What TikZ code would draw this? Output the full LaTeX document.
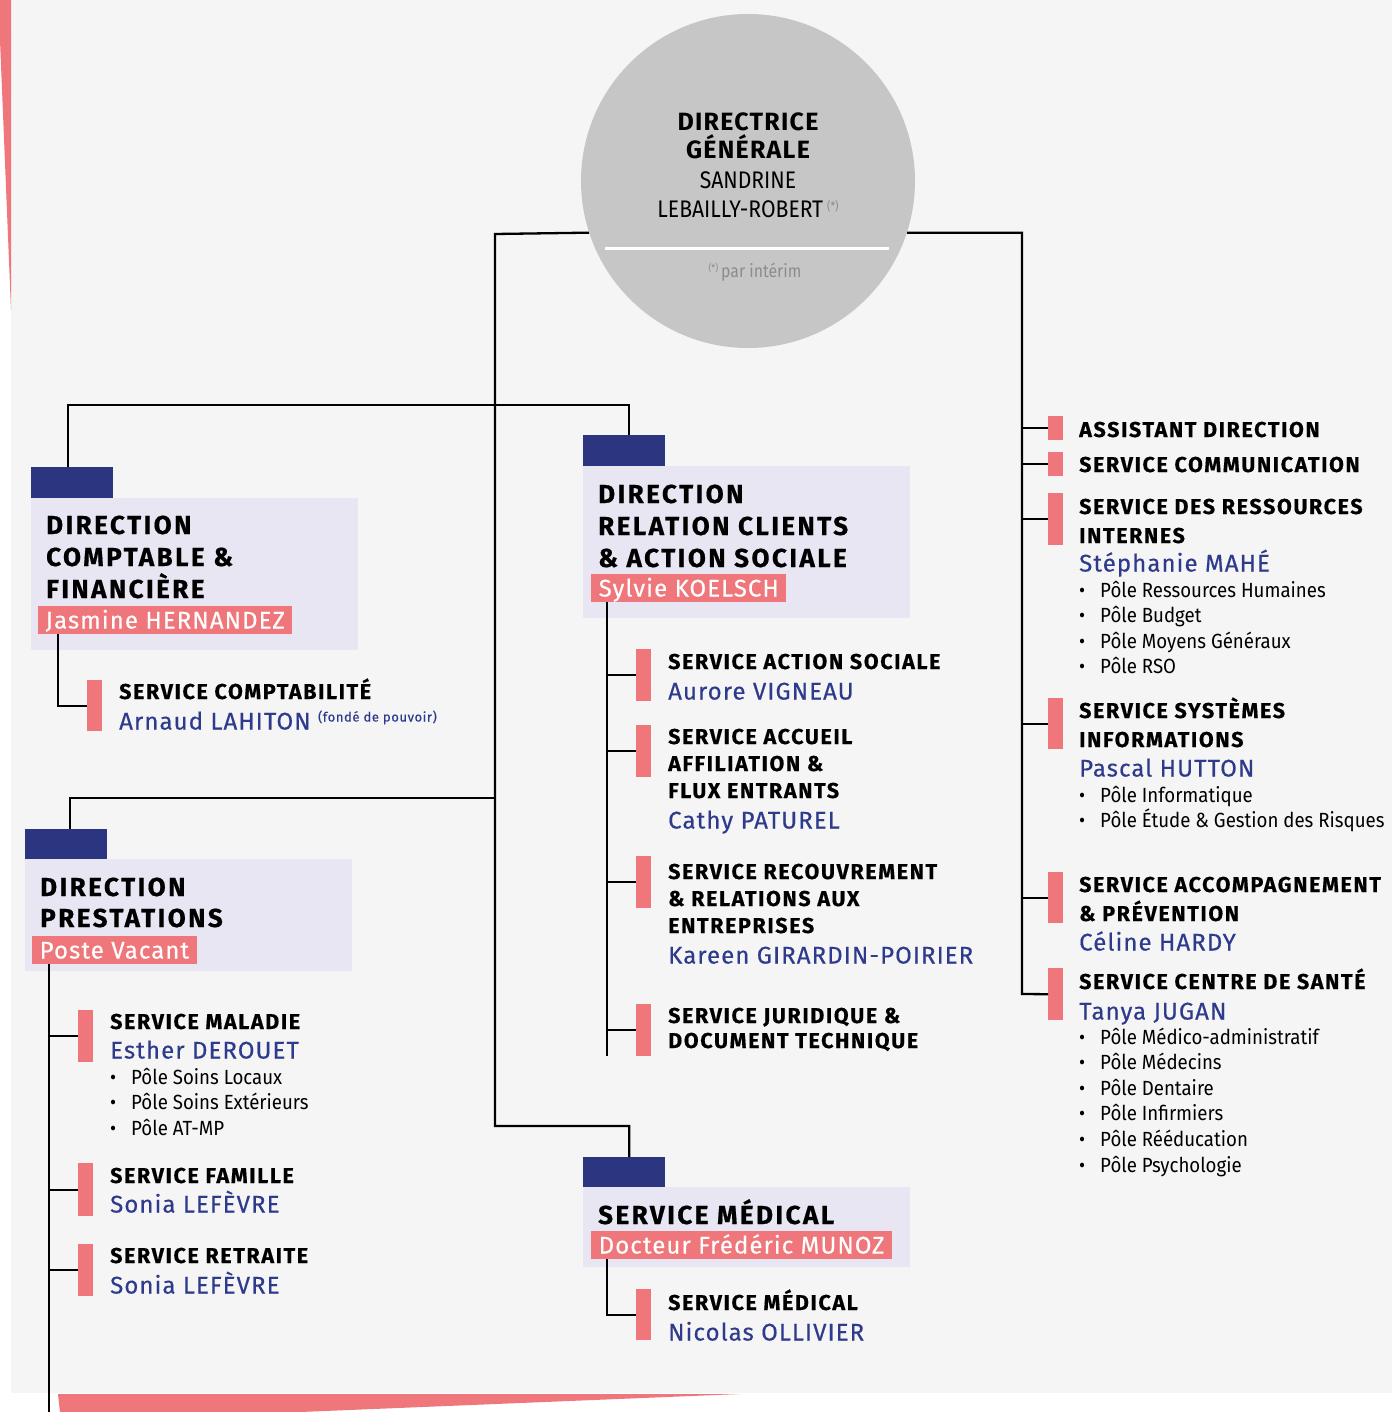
\documentclass[tikz,border=0pt]{standalone}
\usepackage{fontspec}
\setmainfont{Fira Sans}
\newfontfamily\dirfont[LetterSpace=9.5,FakeBold=0.6]{Fira Sans}
\newfontfamily\svcfont[LetterSpace=7.5,FakeBold=0.5]{Fira Sans}
\newfontfamily\nmfont[LetterSpace=4.5,FakeBold=0.4]{Fira Sans}
\newfontfamily\bulfont[FakeStretch=0.91]{Fira Sans}
\newfontfamily\circfont[FakeStretch=0.88]{Fira Sans}
\newfontfamily\circbfont[LetterSpace=5]{Fira Sans}
\definecolor{bgc}{HTML}{F5F5F5}
\definecolor{circc}{HTML}{C6C6C6}
\definecolor{tabc}{HTML}{2B3580}
\definecolor{lavc}{HTML}{E8E6F3}
\definecolor{pinkc}{HTML}{EF767A}
\definecolor{namec}{HTML}{2E3A8C}
\definecolor{greyt}{HTML}{8C8C8C}
\newcommand\bi{\makebox[21pt][l]{•}}
\begin{document}
\begin{tikzpicture}[x=1pt,y=-1pt,
  conn/.style={draw=black, line width=2.3pt},
  tabbox/.style={fill=tabc, inner sep=0pt, minimum width=82pt, minimum height=31pt, anchor=north west},
  lavbox/.style={fill=lavc, inner sep=0pt, minimum width=327pt, anchor=north west},
  dirhead/.style={anchor=base west, inner sep=0pt, align=left, font=\dirfont\bfseries\fontsize{26}{32}\selectfont},
  namebox/.style={anchor=base west, fill=pinkc, text=white, inner xsep=7.5pt, inner ysep=0pt, text height=22.5pt, text depth=5.5pt, font=\nmfont\fontsize{24}{24}\selectfont},
  pbar/.style={fill=pinkc, inner sep=0pt, minimum width=15pt, anchor=north west},
  svchead/.style={anchor=base west, inner sep=0pt, align=left, font=\svcfont\bfseries\fontsize{21.5}{27}\selectfont},
  person/.style={anchor=base west, inner sep=0pt, text=namec, font=\nmfont\fontsize{24}{24}\selectfont},
  bullets/.style={anchor=base west, inner sep=0pt, align=left, font=\bulfont\fontsize{20.5}{25.6}\selectfont}
]
\useasboundingbox (0,0) rectangle (1392,1412);
\fill[white] (0,0) rectangle (1392,1412);
\fill[bgc] (11,0) rectangle (1392,1393);
\fill[pinkc] (0,0) -- (11,0) -- (11,310) -- (0,40) -- cycle;
\fill[pinkc] (58,1394) -- (740,1394) -- (300,1412) -- (60,1412) -- cycle;

% ---------- top circle (base anchor = last line)
\node[circle, fill=circc, minimum size=334pt, inner sep=0pt] (dg) at (748,181) {};
\node[anchor=base, inner sep=0pt, align=center, font=\circbfont\bfseries\fontsize{25}{28}\selectfont] (dgt) at (748,159) {DIRECTRICE\\GÉNÉRALE};
\node[anchor=base, inner sep=0pt, align=center, font=\circfont\fontsize{24}{29}\selectfont] (dgn) at (748,218) {SANDRINE\\LEBAILLY-ROBERT\,{\color{greyt}\fontsize{12}{12}\selectfont\raisebox{7pt}{(*)}}};
\draw[white, line width=3pt] (605,249) -- (889,249);
\node[anchor=base, inner sep=0pt, text=greyt, font=\circfont\fontsize{18}{18}\selectfont] (dgi) at (755,278) {{\fontsize{10}{10}\selectfont\raisebox{6pt}{(*)}}\,par intérim};

% ---------- direction comptable
\node[tabbox] (comptab) at (31,467) {};
\node[lavbox, minimum height=152pt] (compbox) at (31,498) {};
\node[dirhead] (comphd) at (46,598) {DIRECTION\\COMPTABLE \&\\FINANCIÈRE};
\node[namebox] (jname) at (38,628.5) {Jasmine HERNANDEZ};
\node[pbar, minimum height=51pt] (barcpt) at (87,680) {};
\node[svchead] (cpthd) at (119,699) {SERVICE COMPTABILITÉ};
\node[person] (cptnm) at (119,729.5) {Arnaud LAHITON {\fontsize{13}{13}\selectfont\raisebox{8pt}{(fondé de pouvoir)}}};

% ---------- direction relation clients
\node[tabbox] (reltab) at (583,435) {};
\node[lavbox, minimum height=152pt] (relbox) at (583,466) {};
\node[dirhead] (relhd) at (598,567) {DIRECTION\\RELATION CLIENTS\\\& ACTION SOCIALE};
\node[namebox] (sname) at (591,596.5) {Sylvie KOELSCH};
\node[pbar, minimum height=52pt] (baras) at (636,649) {};
\node[svchead] (ashd) at (668,669) {SERVICE ACTION SOCIALE};
\node[person] (asnm) at (668,699.5) {Aurore VIGNEAU};
\node[pbar, minimum height=52pt] (baracc) at (636,725) {};
\node[svchead] (acchd) at (668,798) {SERVICE ACCUEIL\\AFFILIATION \&\\FLUX ENTRANTS};
\node[person] (accnm) at (668,828.5) {Cathy PATUREL};
\node[pbar, minimum height=52pt] (barrec) at (636,856) {};
\node[svchead] (rechd) at (668,933) {SERVICE RECOUVREMENT\\\& RELATIONS AUX\\ENTREPRISES};
\node[person] (recnm) at (668,963.5) {Kareen GIRARDIN-POIRIER};
\node[pbar, minimum height=52pt] (barjur) at (636,1004) {};
\node[svchead, font=\svcfont\bfseries\fontsize{21.5}{25}\selectfont] (jurhd) at (668,1048) {SERVICE JURIDIQUE \&\\DOCUMENT TECHNIQUE};

% ---------- direction prestations
\node[tabbox] (presttab) at (25,829) {};
\node[lavbox, minimum height=112pt] (prestbox) at (25,859) {};
\node[dirhead, font=\dirfont\bfseries\fontsize{26}{31}\selectfont] (presthd) at (40,927) {DIRECTION\\PRESTATIONS};
\node[namebox] (pname) at (32,958.5) {Poste Vacant};
\node[pbar, minimum height=52pt] (barmal) at (78,1010) {};
\node[svchead] (malhd) at (110,1029) {SERVICE MALADIE};
\node[person] (malnm) at (110,1058.5) {Esther DEROUET};
\node[bullets] (malbl) at (110,1135.2) {\bi Pôle Soins Locaux\\\bi Pôle Soins Extérieurs\\\bi Pôle AT-MP};
\node[pbar, minimum height=53pt] (barfam) at (78,1163) {};
\node[svchead] (famhd) at (110,1183) {SERVICE FAMILLE};
\node[person] (famnm) at (110,1212.5) {Sonia LEFÈVRE};
\node[pbar, minimum height=52pt] (barret) at (78,1244) {};
\node[svchead] (rethd) at (110,1263) {SERVICE RETRAITE};
\node[person] (retnm) at (110,1293.5) {Sonia LEFÈVRE};

% ---------- service medical
\node[tabbox] (medtab) at (583,1157) {};
\node[lavbox, minimum height=80pt] (medbox) at (583,1187) {};
\node[dirhead] (medhd) at (598,1224) {SERVICE MÉDICAL};
\node[namebox] (mname) at (591,1253.5) {Docteur Frédéric MUNOZ};
\node[pbar, minimum height=51pt] (barmed) at (636,1289) {};
\node[svchead] (msvhd) at (668,1310) {SERVICE MÉDICAL};
\node[person] (msvnm) at (668,1340.5) {Nicolas OLLIVIER};

% ---------- right column
\node[pbar, minimum height=24pt] (barast) at (1048,416) {};
\node[svchead] (asthd) at (1079,437) {ASSISTANT DIRECTION};
\node[pbar, minimum height=24pt] (barcom) at (1048,452) {};
\node[svchead] (comhd) at (1079,472) {SERVICE COMMUNICATION};
\node[pbar, minimum height=52pt] (barri) at (1048,493) {};
\node[svchead, font=\svcfont\bfseries\fontsize{21.5}{29}\selectfont] (rihd) at (1079,543) {SERVICE DES RESSOURCES\\INTERNES};
\node[person] (rinm) at (1079,571.5) {Stéphanie MAHÉ};
\node[bullets] (ribl) at (1079,673.8) {\bi Pôle Ressources Humaines\\\bi Pôle Budget\\\bi Pôle Moyens Généraux\\\bi Pôle RSO};
\node[pbar, minimum height=51pt] (barsi) at (1048,698) {};
\node[svchead, font=\svcfont\bfseries\fontsize{21.5}{29}\selectfont] (sihd) at (1079,747) {SERVICE SYSTÈMES\\INFORMATIONS};
\node[person] (sinm) at (1079,776.5) {Pascal HUTTON};
\node[bullets] (sibl) at (1079,827.6) {\bi Pôle Informatique\\\bi Pôle Étude \& Gestion des Risques};
\node[pbar, minimum height=51pt] (barap) at (1048,872) {};
\node[svchead, font=\svcfont\bfseries\fontsize{21.5}{29}\selectfont] (aphd) at (1079,921) {SERVICE ACCOMPAGNEMENT\\\& PRÉVENTION};
\node[person] (apnm) at (1079,950.5) {Céline HARDY};
\node[pbar, minimum height=52pt] (barcs) at (1048,968) {};
\node[svchead] (cshd) at (1079,989) {SERVICE CENTRE DE SANTÉ};
\node[person] (csnm) at (1079,1019.5) {Tanya JUGAN};
\node[bullets] (csbl) at (1079,1172) {\bi Pôle Médico-administratif\\\bi Pôle Médecins\\\bi Pôle Dentaire\\\bi Pôle Infirmiers\\\bi Pôle Rééducation\\\bi Pôle Psychologie};

% ---------- connectors
\coordinate (ltop) at (495,234);
\coordinate (lbot) at (495,1126);
\coordinate (lmid) at (495,798);
\draw[conn] (dg.198.5) -- (ltop) -- (lbot) -| ([xshift=5pt]medtab.north);
\draw[conn] ([xshift=-4pt]comptab.north) -- ++(0,-62) -| ([xshift=5pt]reltab.north);
\draw[conn] ([xshift=4pt]presttab.north) |- (lmid);

\coordinate (rbot) at (1022,994);
\draw[conn] (dg.-18.5) -| (rbot) -- (barcs.west);
\foreach \b in {barast,barcom,barri,barsi,barap}
  \draw[conn] (\b.west -| rbot) -- (\b.west);

\draw[conn] ([xshift=20pt]jname.south west) |- (barcpt.west);

\coordinate (rl) at ([xshift=16pt]sname.south west);
\draw[conn] (rl) -- (rl |- barjur.south);
\foreach \b in {baras,baracc,barrec,barjur}
  \draw[conn] (\b.west -| rl) -- (\b.west);

\coordinate (pl) at ([xshift=17pt]pname.south west);
\coordinate (pend) at (0,1412);
\draw[conn] (pl) -- (pl |- pend);
\foreach \b in {barmal,barfam,barret}
  \draw[conn] (\b.west -| pl) -- (\b.west);

\draw[conn] ([xshift=16pt]mname.south west) |- (barmed.west);
\end{tikzpicture}
\end{document}
